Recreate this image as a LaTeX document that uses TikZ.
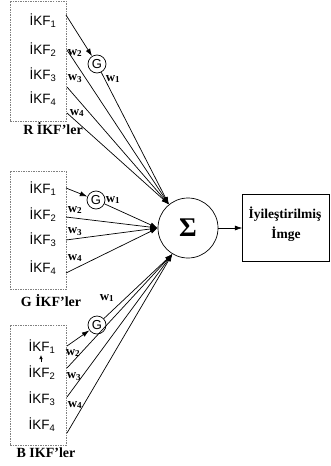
\documentclass[tikz,border=0pt]{standalone}
\usepackage{fontspec}
\setmainfont{Liberation Serif}
\setsansfont{Liberation Sans}
\usetikzlibrary{arrows.meta,positioning}

\begin{document}
\begin{tikzpicture}[x=1pt,y=-1pt,line width=0.7pt,>={Latex[length=7.5pt,width=5pt]},
	grp/.style={draw=gray,dash pattern=on 1.5pt off 1pt,minimum width=56pt,inner sep=0pt},
	ikf/.style={font=\sffamily\fontsize{13.5}{15}\selectfont,inner sep=0pt},
	gain/.style={circle,draw,minimum size=18pt,inner sep=0pt,font=\sffamily\fontsize{13}{13}\selectfont},
	wt/.style={font=\bfseries\fontsize{13}{13}\selectfont,inner sep=0pt},
	grpname/.style={font=\bfseries\fontsize{14}{15}\selectfont,inner sep=0pt}]
	\useasboundingbox (0,0) rectangle (330,466);
	\node[grp,minimum height=120pt](boxr) at (38,61){};
	\node[grp,minimum height=118pt](boxg) at (38,230){};
	\node[grp,minimum height=120pt](boxb) at (38,385){};
	\node[ikf](r1) at (43,21){İKF\textsubscript{1}};
	\node[ikf](r2) at (43,50){İKF\textsubscript{2}};
	\node[ikf](r3) at (43,75){İKF\textsubscript{3}};
	\node[ikf](r4) at (43,99){İKF\textsubscript{4}};
	\node[ikf](g1) at (43,189){İKF\textsubscript{1}};
	\node[ikf](g2) at (43,215){İKF\textsubscript{2}};
	\node[ikf](g3) at (43,240){İKF\textsubscript{3}};
	\node[ikf](g4) at (43,268){İKF\textsubscript{4}};
	\node[ikf](b1) at (42,347){İKF\textsubscript{1}};
	\node[ikf](b2) at (42,373){İKF\textsubscript{2}};
	\node[ikf](b3) at (42,399){İKF\textsubscript{3}};
	\node[ikf](b4) at (42,425){İKF\textsubscript{4}};
	\node[grpname](rcap) at (53,129){R İKF’ler};
	\node[grpname](gcap) at (51,301){G İKF’ler};
	\node[grpname](bcap) at (46,453){B IKF’ler};
	\node[gain](rg) at (97,64){G};
	\node[gain](gg) at (96,200){G};
	\node[gain](bg) at (97,325){G};
	\node[circle,draw,minimum size=60pt,inner sep=0pt,font=\bfseries\fontsize{27}{27}\selectfont](sum) at (188,228){Σ};
	\node[draw,minimum width=87pt,minimum height=67pt,inner sep=0pt](img)[right=24pt of sum]{};
	\node[font=\bfseries\fontsize{13.5}{20}\selectfont,inner sep=0pt](imgtop) at (285,214){İyileştirilmiş};
	\node[font=\bfseries\fontsize{13.5}{20}\selectfont,inner sep=0pt](imgbot) at (286,234){İmge};
	\node[wt](rw1) at (113,79){w\textsubscript{1}};
	\node[wt](rw2) at (75,53){w\textsubscript{2}};
	\node[wt](rw3) at (75,79){w\textsubscript{3}};
	\node[wt](rw4) at (77,113){w\textsubscript{4}};
	\node[wt](gw1) at (113,200){w\textsubscript{1}};
	\node[wt](gw2) at (75,210){w\textsubscript{2}};
	\node[wt](gw3) at (75,232){w\textsubscript{3}};
	\node[wt](gw4) at (75,258){w\textsubscript{4}};
	\node[wt](bw1) at (107,298){w\textsubscript{1}};
	\node[wt](bw2) at (73,353){w\textsubscript{2}};
	\node[wt](bw3) at (74,377){w\textsubscript{3}};
	\node[wt](bw4) at (75,405){w\textsubscript{4}};
	\coordinate (r1o) at (66,15);
	\coordinate (r2o) at (67,50);
	\coordinate (r3o) at (67,87);
	\coordinate (r4o) at (67,113);
	\coordinate (g1o) at (66,188);
	\coordinate (g2o) at (66,217);
	\coordinate (g3o) at (66,240);
	\coordinate (g4o) at (66,273);
	\coordinate (b1o) at (67,346);
	\coordinate (b2o) at (67,368);
	\coordinate (b3o) at (67,397);
	\coordinate (b4o) at (67,433);
	\coordinate (t0) at (41,362);
	\coordinate (t1) at (41,355);
	\path[->](r1o) edge (rg);
	\path[->](rg) edge (sum.129);
	\path[->](r2o) edge (sum.129);
	\path[->](r3o) edge (sum.129);
	\path[->](r4o) edge (sum.129);
	\path[->](g1o) edge (gg);
	\path[->](gg) edge (sum.west);
	\path[->](g2o) edge (sum.west);
	\path[->](g3o) edge (sum.west);
	\path[->](g4o) edge (sum.west);
	\path[->](b1o) edge (bg);
	\path[->](bg) edge (sum.239);
	\path[->](b2o) edge (sum.239);
	\path[->](b3o) edge (sum.239);
	\path[->](b4o) edge (sum.239);
	\path[->](sum) edge (img);
	\path[-{Latex[length=4pt,width=3.5pt]}](t0) edge (t1);
\end{tikzpicture}
\end{document}
